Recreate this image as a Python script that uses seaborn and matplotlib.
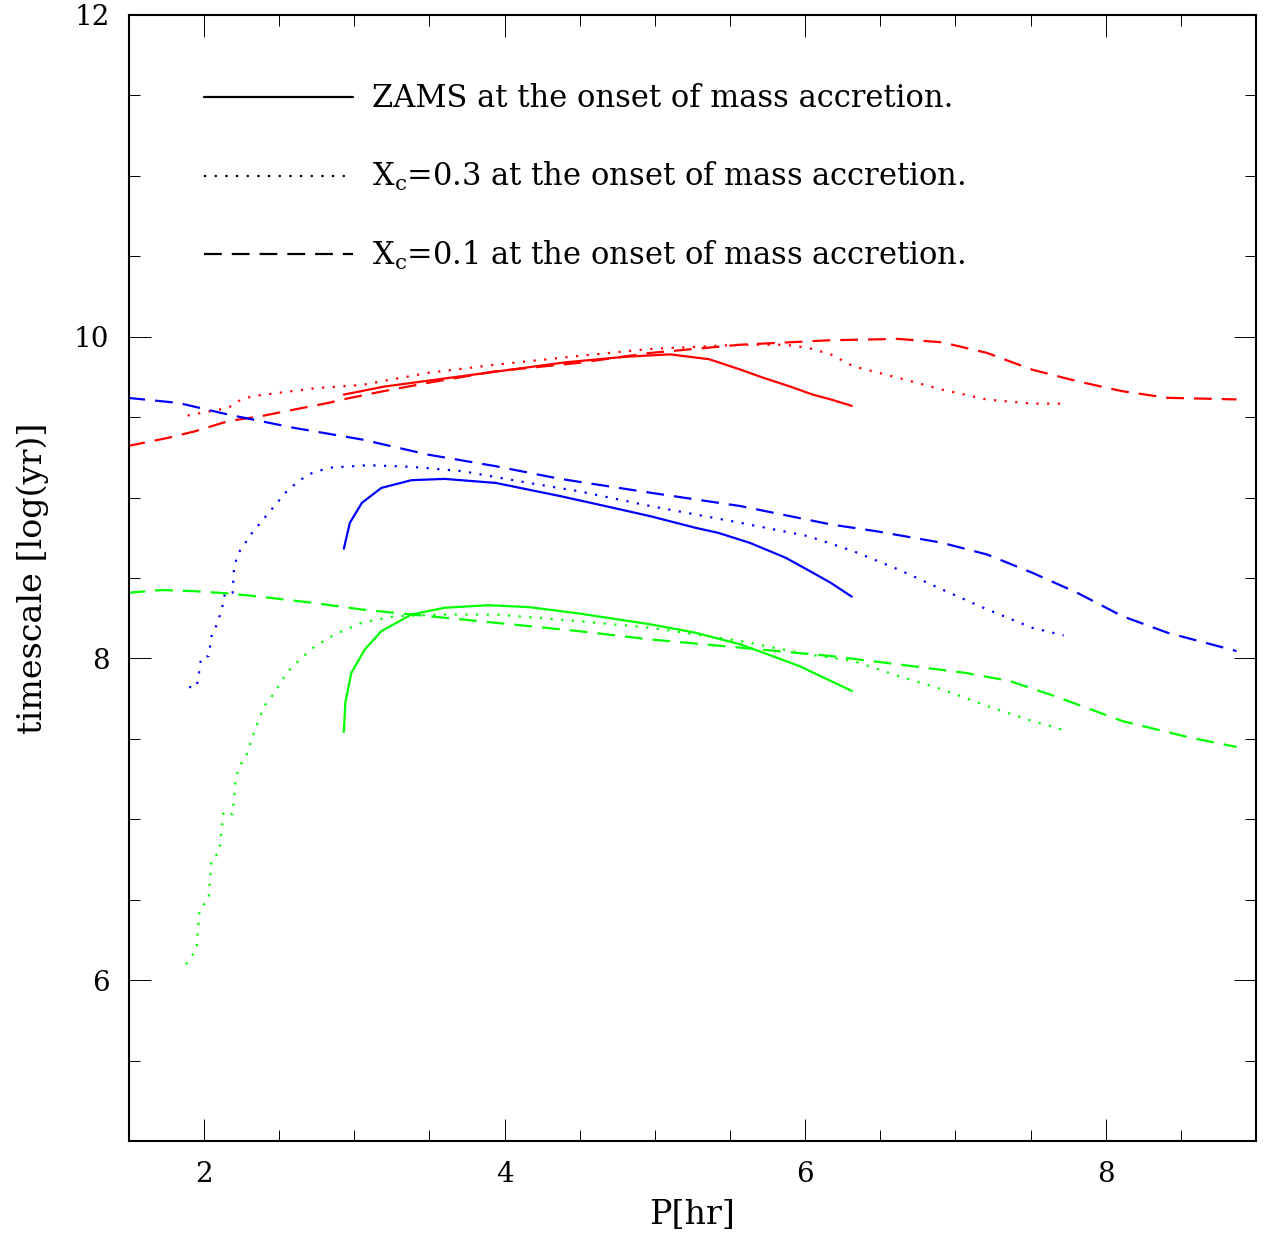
import numpy as np
import pandas as pd
import matplotlib
matplotlib.use("Agg")
import matplotlib.pyplot as plt
from matplotlib.lines import Line2D
from matplotlib.ticker import MultipleLocator
import seaborn as sns

# Period [hr] and timescale [log(yr)]
# red group
red_zams_p = [2.93, 3.2, 3.6, 4.0, 4.4, 4.8, 5.1, 5.36, 5.57, 5.72, 5.9, 6.05, 6.17, 6.31]
red_zams_t = [9.64, 9.69, 9.74, 9.79, 9.84, 9.875, 9.89, 9.86, 9.795, 9.745, 9.69, 9.64, 9.61, 9.57]
red_x03_p = [1.89, 2.16, 2.23, 2.32, 2.49, 2.74, 3.05, 3.49, 3.94, 4.49, 4.97, 5.57, 5.87,
             6.02, 6.17, 6.32, 6.62, 6.91, 7.21, 7.51, 7.72]
red_x03_t = [9.51, 9.557, 9.6, 9.63, 9.65, 9.68, 9.70, 9.775, 9.826, 9.88, 9.924, 9.95, 9.95,
             9.93, 9.89, 9.816, 9.744, 9.671, 9.609, 9.584, 9.584]
red_x01_p = [1.49, 1.76, 1.94, 2.16, 2.38, 2.6, 2.83, 2.94, 3.16, 3.49, 3.94, 4.49, 4.97, 5.57,
             6.17, 6.62, 6.91, 7.21, 7.51, 7.81, 8.11, 8.41, 8.87]
red_x01_t = [9.32, 9.371, 9.412, 9.475, 9.506, 9.547, 9.589, 9.613, 9.655, 9.713, 9.785, 9.837,
             9.899, 9.95, 9.978, 9.986, 9.965, 9.899, 9.795, 9.723, 9.661, 9.62, 9.61]

# blue group
blue_zams_p = [2.93, 2.97, 3.05, 3.18, 3.38, 3.6, 3.94, 4.37, 4.67, 4.97, 5.27, 5.42, 5.63,
               5.87, 6.05, 6.17, 6.31]
blue_zams_t = [8.682, 8.843, 8.967, 9.06, 9.108, 9.116, 9.091, 9.009, 8.947, 8.884, 8.812,
               8.781, 8.719, 8.626, 8.533, 8.47, 8.384]
blue_x03_p = [1.90, 1.95, 1.97, 1.98, 2.03, 2.05, 2.09, 2.12, 2.14, 2.19, 2.20, 2.23, 2.32,
              2.43, 2.56, 2.69, 2.83, 3.09, 3.38, 3.72, 4.16, 4.49, 4.97, 5.57, 6.02, 6.32,
              6.62, 6.91, 7.21, 7.51, 7.72]
blue_x03_t = [7.822, 7.822, 7.932, 8.004, 8.015, 8.139, 8.222, 8.315, 8.408, 8.408, 8.574,
              8.657, 8.781, 8.905, 9.05, 9.143, 9.185, 9.201, 9.191, 9.164, 9.091, 9.04,
              8.947, 8.843, 8.76, 8.667, 8.553, 8.429, 8.305, 8.191, 8.143]
blue_x01_p = [1.49, 1.83, 2.16, 2.6, 3.05, 3.49, 3.94, 4.37, 4.97, 5.57, 6.17, 6.47, 6.91,
              7.21, 7.51, 7.81, 8.11, 8.41, 8.87]
blue_x01_t = [9.62, 9.588, 9.516, 9.433, 9.361, 9.267, 9.195, 9.116, 9.03, 8.947, 8.833,
              8.791, 8.719, 8.646, 8.533, 8.408, 8.263, 8.16, 8.046]

# green group
green_zams_p = [2.93, 2.94, 2.98, 3.07, 3.18, 3.38, 3.6, 3.89, 4.16, 4.49, 4.97, 5.27, 5.57,
                5.72, 5.96, 6.31]
green_zams_t = [7.543, 7.725, 7.911, 8.056, 8.17, 8.273, 8.315, 8.331, 8.319, 8.28, 8.212,
                8.16, 8.087, 8.036, 7.953, 7.798]
green_x03_p = [1.88, 1.95, 1.97, 2.03, 2.05, 2.10, 2.13, 2.19, 2.21, 2.23, 2.28, 2.34, 2.40,
               2.47, 2.55, 2.65, 2.74, 2.87, 3.05, 3.27, 3.6, 3.94, 4.49, 4.97, 5.57, 6.02,
               6.32, 6.62, 6.91, 7.21, 7.51, 7.72]
green_x03_t = [6.099, 6.193, 6.441, 6.503, 6.752, 6.793, 7.048, 7.031, 7.248, 7.321, 7.393,
               7.559, 7.704, 7.787, 7.911, 8.004, 8.077, 8.149, 8.222, 8.263, 8.273, 8.273,
               8.232, 8.191, 8.108, 8.025, 7.984, 7.891, 7.808, 7.704, 7.611, 7.555]
green_x01_p = [1.49, 1.72, 1.94, 2.16, 2.38, 2.72, 3.05, 3.38, 3.72, 4.16, 4.49, 4.97, 5.57,
               6.17, 6.62, 7.06, 7.36, 7.66, 8.11, 8.56, 8.87]
green_x01_t = [8.408, 8.425, 8.418, 8.404, 8.383, 8.346, 8.304, 8.273, 8.242, 8.201, 8.17,
               8.118, 8.067, 8.015, 7.963, 7.911, 7.86, 7.766, 7.611, 7.508, 7.45]

legend_labels = ["ZAMS at the onset of mass accretion.",
                 r"X$_{\rm c}$=0.3 at the onset of mass accretion.",
                 r"X$_{\rm c}$=0.1 at the onset of mass accretion."]


def build_frame():
    rows = []
    groups = {
        "red": [(red_zams_p, red_zams_t, "zams"), (red_x03_p, red_x03_t, "x03"),
                (red_x01_p, red_x01_t, "x01")],
        "blue": [(blue_zams_p, blue_zams_t, "zams"), (blue_x03_p, blue_x03_t, "x03"),
                 (blue_x01_p, blue_x01_t, "x01")],
        "green": [(green_zams_p, green_zams_t, "zams"), (green_x03_p, green_x03_t, "x03"),
                  (green_x01_p, green_x01_t, "x01")],
    }
    for color, series in groups.items():
        for p, t, case in series:
            for pi, ti in zip(p, t):
                rows.append({"P": pi, "t": ti, "color": color, "case": case})
    return pd.DataFrame(rows)


def main():
    sns.set_style("ticks")
    plt.rcParams["font.family"] = ["DejaVu Serif"]
    plt.rcParams["mathtext.fontset"] = "dejavuserif"
    for key in ["text.color", "axes.labelcolor", "xtick.color", "ytick.color",
                "axes.edgecolor"]:
        plt.rcParams[key] = "black"

    df = build_frame()

    colors = {"red": "#ff0000", "blue": "#0000ff", "green": "#00ff00"}
    styles = {"zams": "-", "x03": (0, (1, 3.8)), "x01": (0, (8, 4.5))}

    fig = plt.figure(figsize=(12.64, 12.43), dpi=100)
    ax = fig.add_axes([0.102, 0.082, 0.8917, 0.906])

    for (color, case), sub in df.groupby(["color", "case"], sort=False):
        sns.lineplot(data=sub, x="P", y="t", ax=ax, sort=False, estimator=None,
                     color=colors[color], linestyle=styles[case], linewidth=1.6)

    ax.set_xlim(1.5, 9.0)
    ax.set_ylim(5, 12)
    ax.xaxis.set_major_locator(MultipleLocator(2))
    ax.xaxis.set_minor_locator(MultipleLocator(0.5))
    ax.yaxis.set_major_locator(MultipleLocator(2))
    ax.yaxis.set_minor_locator(MultipleLocator(0.5))
    ax.tick_params(which="both", direction="in", top=True, right=True,
                   width=0.7, labelsize=20, pad=14)
    ax.tick_params(which="major", length=16)
    ax.tick_params(which="minor", length=8)
    for s in ax.spines.values():
        s.set_linewidth(1.5)

    ax.set_xlabel("P[hr]", fontsize=24, labelpad=8)
    ax.set_ylabel("timescale [log(yr)]", fontsize=24, labelpad=18)

    handles = [Line2D([], [], color="black", linestyle=styles[c], linewidth=1.6)
               for c in ["zams", "x03", "x01"]]
    ax.legend(handles, legend_labels, loc="upper left", bbox_to_anchor=(0.042, 0.9636),
              frameon=False, fontsize=22, handlelength=4.9, handletextpad=0.6,
              labelspacing=1.5)

    fig.savefig("out.png", dpi=100)


if __name__ == "__main__":
    main()
